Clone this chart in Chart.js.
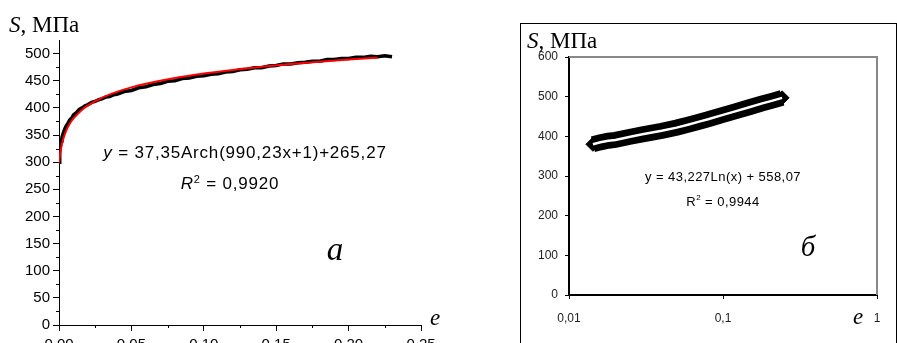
<!DOCTYPE html>
<html>
<head>
<meta charset="utf-8">
<script src="https://cdn.jsdelivr.net/npm/chart.js"></script>
<style>
  html, body { margin: 0; padding: 0; background: #fff; overflow: hidden; }
  body { width: 897px; height: 343px; position: relative; }
  .lbl { position: absolute; white-space: nowrap; line-height: 1; color: #000; }
  .serif { font-family: "Liberation Serif", "Times New Roman", serif; }
  .sans { font-family: "Liberation Sans", Arial, sans-serif; }
  .c { transform: translate(-50%, -50%); }
  .m { transform: translateY(-50%); }
  #boxB { position: absolute; left: 520px; top: 23px; width: 377px; height: 340px; border: 1px solid #000; box-sizing: border-box; }
  #chartA { position: absolute; left: 0; top: 0; }
  #chartB { position: absolute; left: 0; top: 0; }
</style>
</head>
<body>
<canvas id="chartA" width="450" height="360"></canvas>
<div id="boxB"><canvas id="chartB" width="375" height="330"></canvas></div>

<div class="lbl serif m" style="left:9px; top:24px; font-size:23px;"><i>S</i>, МПа</div>
<div class="lbl sans c" style="left:245px; top:152px; font-size:17px; letter-spacing:0.8px;"><i>y</i> = 37,35Arch(990,23x+1)+265,27</div>
<div class="lbl sans c" style="left:230px; top:183px; font-size:17px; letter-spacing:0.8px;"><i>R</i><sup style="font-size:11px">2</sup> = 0,9920</div>
<div class="lbl serif c" style="left:335px; top:249px; font-size:33px;"><i>a</i></div>
<div class="lbl serif c" style="left:435px; top:317px; font-size:23px;"><i>e</i></div>

<div class="lbl serif m" style="left:527px; top:40px; font-size:23px;"><i>S</i>, МПа</div>
<div class="lbl sans c" style="left:723px; top:176px; font-size:13px; letter-spacing:0.45px;">y = 43,227Ln(x) + 558,07</div>
<div class="lbl sans c" style="left:723px; top:201px; font-size:13px; letter-spacing:0.45px;">R<sup style="font-size:8px">2</sup> = 0,9944</div>
<div class="lbl serif c" style="left:808px; top:246px; font-size:29px;"><i>б</i></div>
<div class="lbl serif c" style="left:858px; top:316px; font-size:23px;"><i>e</i></div>

<script>
// panel a: measured curve (black) and fitted curve (red)
const strainA = [0, 0.0005, 0.001, 0.0015, 0.002, 0.003, 0.004, 0.005, 0.006, 0.0075, 0.009, 0.01, 0.012, 0.014, 0.016, 0.018, 0.02, 0.0225, 0.025, 0.0275, 0.03, 0.0325, 0.035, 0.0375, 0.04, 0.045, 0.05, 0.055, 0.06, 0.065, 0.07, 0.075, 0.08, 0.085, 0.09, 0.095, 0.1, 0.105, 0.11, 0.115, 0.12, 0.125, 0.13, 0.135, 0.14, 0.145, 0.15, 0.155, 0.16, 0.165, 0.17, 0.175, 0.18, 0.185, 0.19, 0.195, 0.2, 0.205, 0.21, 0.215, 0.22, 0.225, 0.23];
const stressA = [300, 318, 330, 339, 345, 354, 361, 367, 371, 378, 382, 387, 391, 397, 400, 404, 406, 410, 412, 415, 417, 420, 421, 424, 425, 430, 432, 437, 439, 443, 445, 449, 450, 454, 455, 458, 459, 462, 463, 466, 467, 470, 471, 474, 474, 477, 478, 481, 481, 483, 484, 486, 486, 489, 489, 491, 491, 493, 493, 495, 494, 496, 494];
const fitStrainA = [0, 0.0005, 0.001, 0.002, 0.003, 0.005, 0.0075, 0.01, 0.015, 0.02, 0.03, 0.04, 0.05, 0.06, 0.08, 0.1, 0.12, 0.14, 0.16, 0.18, 0.2, 0.22];
const fitStressA = [298, 310, 319, 333, 343, 358, 371, 380.5, 394.4, 404.6, 419, 429.5, 437.7, 444.3, 455, 463.2, 469.9, 475.6, 480.6, 485, 488.9, 492.4];
const xTicksA = [0, 0.05, 0.1, 0.15, 0.2, 0.25];

// panel б: same data on a log strain axis
const strainB = [0.0143, 0.016, 0.018, 0.02, 0.025, 0.03, 0.04, 0.05, 0.06, 0.07, 0.08, 0.1, 0.12, 0.15, 0.18, 0.21, 0.242];
const stressB = [380, 385, 389, 391, 399, 405, 414, 422, 430, 437, 443, 454, 463, 474, 483, 490, 497];
const xTicksB = [0.01, 0.1, 1];

Chart.defaults.font.family = '"Liberation Sans", Arial, sans-serif';
Chart.defaults.color = '#000';

function pts(xs, ys) {
  return xs.map((v, i) => ({x: v, y: ys[i]}));
}

const minorTicks = {
  id: 'minorTicks',
  afterDraw(chart) {
    const ctx = chart.ctx, x = chart.scales.x, y = chart.scales.y, a = chart.chartArea;
    ctx.save();
    ctx.strokeStyle = '#000';
    ctx.lineWidth = 1;
    ctx.beginPath();
    for (let v = 25; v < 525; v += 50) {
      const py = Math.round(y.getPixelForValue(v)) + 0.5;
      ctx.moveTo(a.left - 3, py); ctx.lineTo(a.left, py);
    }
    for (let v = 0.025; v < 0.25; v += 0.05) {
      const px = Math.round(x.getPixelForValue(v)) + 0.5;
      ctx.moveTo(px, a.bottom); ctx.lineTo(px, a.bottom + 3);
    }
    ctx.stroke();
    ctx.restore();
  }
};

new Chart(document.getElementById('chartA'), {
  type: 'line',
  data: {
    datasets: [{
      data: pts(fitStrainA, fitStressA),
      borderColor: '#ff0000',
      borderWidth: 2,
      pointRadius: 0,
      cubicInterpolationMode: 'monotone',
      order: 0
    }, {
      data: pts(strainA, stressA),
      borderColor: '#000',
      borderWidth: 3.5,
      pointRadius: 0,
      order: 1
    }]
  },
  options: {
    responsive: false,
    animation: false,
    devicePixelRatio: 1,
    layout: {padding: {top: 40, right: 29, left: 0, bottom: 0}},
    plugins: {legend: {display: false}, tooltip: {enabled: false}},
    scales: {
      x: {
        type: 'linear', min: 0, max: 0.25,
        afterBuildTicks: s => { s.ticks = xTicksA.map(v => ({value: v})); },
        afterFit: s => { s.height = 35; },
        grid: {drawOnChartArea: false, tickLength: 6, color: '#000'},
        border: {color: '#000', width: 1},
        ticks: {font: {size: 15}, padding: 5, maxRotation: 0, callback: v => v.toFixed(2)}
      },
      y: {
        min: 0, max: 525,
        afterFit: s => { s.width = 59; },
        grid: {drawOnChartArea: false, tickLength: 6, color: '#000'},
        border: {color: '#000', width: 1},
        ticks: {font: {size: 15}, padding: 3, stepSize: 50, includeBounds: false}
      }
    }
  },
  plugins: [minorTicks]
});

const plotFrame = {
  id: 'plotFrame',
  beforeDatasetsDraw(chart) {
    const ctx = chart.ctx, a = chart.chartArea;
    ctx.save();
    ctx.strokeStyle = '#888';
    ctx.lineWidth = 2;
    ctx.beginPath();
    ctx.moveTo(a.left, a.top);
    ctx.lineTo(a.right, a.top);
    ctx.lineTo(a.right, a.bottom);
    ctx.stroke();
    ctx.restore();
  }
};

const lastB = strainB.length - 1;
new Chart(document.getElementById('chartB'), {
  type: 'line',
  data: {
    datasets: [{
      data: pts(strainB, stressB),
      borderColor: '#fff',
      borderWidth: 2.5,
      pointRadius: 0,
      order: 0
    }, {
      data: pts(strainB, stressB),
      borderColor: '#000',
      backgroundColor: '#000',
      borderWidth: 16,
      borderCapStyle: 'butt',
      pointStyle: 'rectRot',
      pointRadius: c => (c.dataIndex === 0 || c.dataIndex === lastB) ? 7 : 0,
      pointBorderWidth: 1,
      order: 1
    }]
  },
  options: {
    responsive: false,
    animation: false,
    devicePixelRatio: 1,
    layout: {padding: {top: 33, right: 19, left: 0, bottom: 0}},
    plugins: {legend: {display: false}, tooltip: {enabled: false}},
    scales: {
      x: {
        type: 'logarithmic', min: 0.01, max: 1,
        afterBuildTicks: s => { s.ticks = xTicksB.map(v => ({value: v})); },
        afterFit: s => { s.height = 59; },
        grid: {drawOnChartArea: false, tickLength: 4, color: '#000'},
        border: {color: '#000', width: 2},
        ticks: {font: {size: 12}, padding: 12, maxRotation: 0, autoSkip: false, color: '#222',
                callback: v => String(v).replace('.', ',')}
      },
      y: {
        min: 0, max: 600,
        afterFit: s => { s.width = 48; },
        grid: {drawOnChartArea: false, tickLength: 4, color: '#000'},
        border: {color: '#000', width: 2},
        ticks: {font: {size: 12}, padding: 7, stepSize: 100, color: '#222'}
      }
    }
  },
  plugins: [plotFrame]
});
</script>
</body>
</html>
